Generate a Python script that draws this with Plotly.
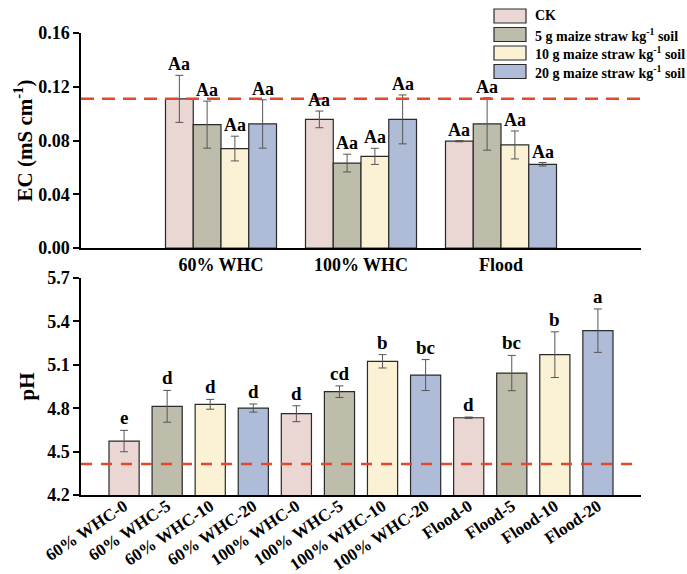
import plotly.graph_objects as go

# ---------------- data ----------------
groups = ["60% WHC", "100% WHC", "Flood"]
series_names = ["CK", "5 g maize straw kg<sup>-1</sup> soil",
                "10 g maize straw kg<sup>-1</sup> soil", "20 g maize straw kg<sup>-1</sup> soil"]
colors = ["#EAD6D3", "#BEBDAC", "#FBF2D6", "#AEBCD8"]

ec_ck = [0.111, 0.0957, 0.0795]
ec_5 = [0.0918, 0.0632, 0.0923]
ec_10 = [0.0740, 0.0682, 0.0767]
ec_20 = [0.0923, 0.0957, 0.0623]
ec_ck_err = [0.0175, 0.0062, 0.0005]
ec_5_err = [0.0175, 0.0066, 0.0195]
ec_10_err = [0.0092, 0.0060, 0.0104]
ec_20_err = [0.0180, 0.0182, 0.0013]
ec_letters = [["Aa", "Aa", "Aa"], ["Aa", "Aa", "Aa"], ["Aa", "Aa", "Aa"], ["Aa", "Aa", "Aa"]]
ec_ref = 0.111

ph_labels = ["60% WHC-0", "60% WHC-5", "60% WHC-10", "60% WHC-20",
             "100% WHC-0", "100% WHC-5", "100% WHC-10", "100% WHC-20",
             "Flood-0", "Flood-5", "Flood-10", "Flood-20"]
ph_vals = [4.573, 4.813, 4.827, 4.801, 4.762, 4.914, 5.124, 5.029, 4.734, 5.043, 5.170, 5.336]
ph_err = [0.074, 0.110, 0.034, 0.028, 0.055, 0.040, 0.046, 0.107, 0.005, 0.122, 0.158, 0.150]
ph_letters = ["e", "d", "d", "d", "d", "cd", "b", "bc", "d", "bc", "b", "a"]
ph_ref = 4.415

# ---------------- figure ----------------
FONT = "Liberation Serif"
W, H = 687, 574
fig = go.Figure()

ec_vals = [ec_ck, ec_5, ec_10, ec_20]
ec_errs = [ec_ck_err, ec_5_err, ec_10_err, ec_20_err]
bargap = 0.207
for i in range(4):
    fig.add_trace(go.Bar(
        x=groups, y=ec_vals[i], name=series_names[i],
        marker=dict(color=colors[i], line=dict(color="#2a2a2a", width=1.2)),
        error_y=dict(type="data", array=ec_errs[i], color="#555555", thickness=1, width=4),
        xaxis="x", yaxis="y", showlegend=False,
    ))

bar_w = (1 - bargap) / 4
for i in range(4):
    off = -(1 - bargap) / 2 + bar_w * (i + 0.5)
    for g in range(3):
        fig.add_annotation(
            x=g + off, y=ec_vals[i][g] + ec_errs[i][g], xref="x", yref="y",
            text=ec_letters[i][g], showarrow=False, yanchor="middle", yshift=11,
            font=dict(family=FONT, size=18, color="black", weight="bold"),
        )

ph_colors = [colors[k % 4] for k in range(len(ph_labels))]
fig.add_trace(go.Bar(
    x=ph_labels, y=ph_vals, width=0.7,
    marker=dict(color=ph_colors, line=dict(color="#2a2a2a", width=1.2)),
    error_y=dict(type="data", array=ph_err, color="#555555", thickness=1, width=4),
    xaxis="x2", yaxis="y2", showlegend=False,
))
for k in range(len(ph_labels)):
    fig.add_annotation(
        x=k, y=ph_vals[k] + ph_err[k], xref="x2", yref="y2",
        text=ph_letters[k], showarrow=False, yanchor="middle", yshift=12.5,
        font=dict(family=FONT, size=19, color="black", weight="bold"),
    )

# reference lines
fig.add_shape(type="line", xref="x domain", yref="y", x0=0, x1=1, y0=ec_ref, y1=ec_ref,
              line=dict(color="#E5472B", width=2.5, dash="13px,8px"), layer="above")
fig.add_shape(type="line", xref="x2 domain", yref="y2", x0=0, x1=1, y0=ph_ref, y1=ph_ref,
              line=dict(color="#E5472B", width=2.5, dash="11px,9px"), layer="above")

# custom legend
leg_rows = [16, 34.5, 53, 71.5]
for i, nm in enumerate(series_names):
    yc = 1 - leg_rows[i] / H
    fig.add_shape(type="rect", xref="paper", yref="paper",
                  x0=494 / W, x1=526 / W, y0=yc - 7 / H, y1=yc + 7 / H,
                  fillcolor=colors[i], line=dict(color="#2a2a2a", width=1.2))
    fig.add_annotation(xref="paper", yref="paper", x=533 / W, y=yc, text=nm,
                       xanchor="left", yanchor="middle", showarrow=False,
                       font=dict(family=FONT, size=14, color="black", weight="bold"))

xdom = [81 / W, 641 / W]
axis_common = dict(showline=True, linecolor="black", linewidth=1.5, showgrid=False, zeroline=False,
                   automargin=False)
tickf = dict(family=FONT, size=18, color="black", weight="bold")

fig.update_layout(
    width=W, height=H, margin=dict(l=0, r=0, t=0, b=0, autoexpand=False),
    paper_bgcolor="white", plot_bgcolor="white",
    barmode="group", bargap=bargap, bargroupgap=0,
    font=dict(family=FONT, color="black", weight="bold"),
    xaxis=dict(domain=xdom, anchor="y", range=[-1, 3], ticks="", tickfont=tickf, **axis_common),
    yaxis=dict(domain=[326 / H, 541 / H], anchor="x", range=[0, 0.16], tick0=0, dtick=0.04,
               tickformat=".2f", ticks="outside", ticklen=6, tickwidth=1.5, tickcolor="black",
               tickfont=tickf,
               title=dict(text="EC (mS cm<sup>-1</sup>)", standoff=0,
                          font=dict(family=FONT, size=21, color="black", weight="bold")),
               **axis_common),
    xaxis2=dict(domain=xdom, anchor="y2", range=[-1, 12], ticks="", tickangle=-34,
                ticklabelstandoff=-7,
                tickfont=dict(family=FONT, size=17, color="black", weight="bold"),
                **axis_common),
    yaxis2=dict(domain=[79 / H, 296 / H], anchor="x2", range=[4.2, 5.7], tick0=4.2, dtick=0.3,
                tickformat=".1f", ticks="outside", ticklen=6, tickwidth=1.5, tickcolor="black",
                tickfont=tickf,
                title=dict(text="pH", standoff=7,
                           font=dict(family=FONT, size=21, color="black", weight="bold")),
                **axis_common),
)

fig.write_html("out.html")
